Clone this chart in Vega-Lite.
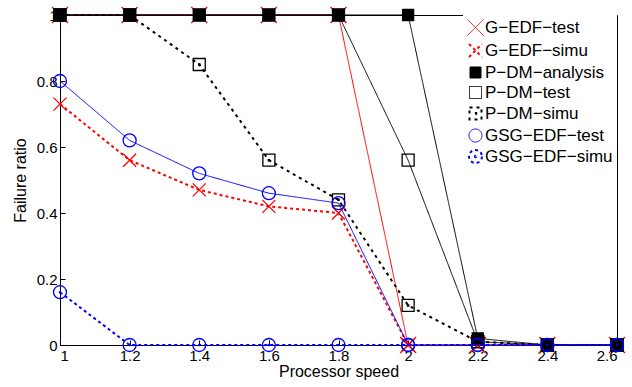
{
  "$schema": "https://vega.github.io/schema/vega-lite/v6.json",
  "width": 557,
  "height": 330,
  "autosize": "none",
  "padding": {"left": 60, "top": 15, "right": 15, "bottom": 42},
  "background": "white",
  "config": {
    "font": "Liberation Sans",
    "view": {"stroke": "black", "strokeWidth": 1},
    "axis": {
      "grid": false, "domainColor": "black", "tickColor": "black", "tickSize": -5,
      "labelColor": "black", "labelFontSize": 15, "labelFont": "Liberation Sans",
      "titleColor": "black", "titleFontSize": 16, "titleFontWeight": "normal", "titleFont": "Liberation Sans"
    },
    "legend": {
      "orient": "top-right", "offset": 0, "fillColor": "white",
      "padding": 4, "labelFontSize": 17, "labelFont": "Liberation Sans", "labelColor": "black",
      "rowPadding": 2, "symbolStrokeWidth": 1.2, "labelOffset": 1
    }
  },
  "data": {"values": [
    {"speed": 1.0, "ratio": 1, "series": "G-EDF-test"},
    {"speed": 1.2, "ratio": 1, "series": "G-EDF-test"},
    {"speed": 1.4, "ratio": 1, "series": "G-EDF-test"},
    {"speed": 1.6, "ratio": 1, "series": "G-EDF-test"},
    {"speed": 1.8, "ratio": 1, "series": "G-EDF-test"},
    {"speed": 2.0, "ratio": 0, "series": "G-EDF-test"},
    {"speed": 2.2, "ratio": 0, "series": "G-EDF-test"},
    {"speed": 2.4, "ratio": 0, "series": "G-EDF-test"},
    {"speed": 2.6, "ratio": 0, "series": "G-EDF-test"},
    {"speed": 1.0, "ratio": 0.73, "series": "G-EDF-simu"},
    {"speed": 1.2, "ratio": 0.56, "series": "G-EDF-simu"},
    {"speed": 1.4, "ratio": 0.47, "series": "G-EDF-simu"},
    {"speed": 1.6, "ratio": 0.42, "series": "G-EDF-simu"},
    {"speed": 1.8, "ratio": 0.40, "series": "G-EDF-simu"},
    {"speed": 2.0, "ratio": 0, "series": "G-EDF-simu"},
    {"speed": 2.2, "ratio": 0, "series": "G-EDF-simu"},
    {"speed": 2.4, "ratio": 0, "series": "G-EDF-simu"},
    {"speed": 2.6, "ratio": 0, "series": "G-EDF-simu"},
    {"speed": 1.0, "ratio": 1, "series": "P-DM-analysis"},
    {"speed": 1.2, "ratio": 1, "series": "P-DM-analysis"},
    {"speed": 1.4, "ratio": 1, "series": "P-DM-analysis"},
    {"speed": 1.6, "ratio": 1, "series": "P-DM-analysis"},
    {"speed": 1.8, "ratio": 1, "series": "P-DM-analysis"},
    {"speed": 2.0, "ratio": 1, "series": "P-DM-analysis"},
    {"speed": 2.2, "ratio": 0.02, "series": "P-DM-analysis"},
    {"speed": 2.4, "ratio": 0, "series": "P-DM-analysis"},
    {"speed": 2.6, "ratio": 0, "series": "P-DM-analysis"},
    {"speed": 1.0, "ratio": 1, "series": "P-DM-test"},
    {"speed": 1.2, "ratio": 1, "series": "P-DM-test"},
    {"speed": 1.4, "ratio": 1, "series": "P-DM-test"},
    {"speed": 1.6, "ratio": 1, "series": "P-DM-test"},
    {"speed": 1.8, "ratio": 1, "series": "P-DM-test"},
    {"speed": 2.0, "ratio": 0.56, "series": "P-DM-test"},
    {"speed": 2.2, "ratio": 0.01, "series": "P-DM-test"},
    {"speed": 2.4, "ratio": 0, "series": "P-DM-test"},
    {"speed": 2.6, "ratio": 0, "series": "P-DM-test"},
    {"speed": 1.0, "ratio": 1, "series": "P-DM-simu"},
    {"speed": 1.2, "ratio": 1, "series": "P-DM-simu"},
    {"speed": 1.4, "ratio": 0.85, "series": "P-DM-simu"},
    {"speed": 1.6, "ratio": 0.56, "series": "P-DM-simu"},
    {"speed": 1.8, "ratio": 0.44, "series": "P-DM-simu"},
    {"speed": 2.0, "ratio": 0.12, "series": "P-DM-simu"},
    {"speed": 2.2, "ratio": 0.01, "series": "P-DM-simu"},
    {"speed": 2.4, "ratio": 0, "series": "P-DM-simu"},
    {"speed": 2.6, "ratio": 0, "series": "P-DM-simu"},
    {"speed": 1.0, "ratio": 0.80, "series": "GSG-EDF-test"},
    {"speed": 1.2, "ratio": 0.62, "series": "GSG-EDF-test"},
    {"speed": 1.4, "ratio": 0.52, "series": "GSG-EDF-test"},
    {"speed": 1.6, "ratio": 0.46, "series": "GSG-EDF-test"},
    {"speed": 1.8, "ratio": 0.43, "series": "GSG-EDF-test"},
    {"speed": 2.0, "ratio": 0, "series": "GSG-EDF-test"},
    {"speed": 2.2, "ratio": 0, "series": "GSG-EDF-test"},
    {"speed": 2.4, "ratio": 0, "series": "GSG-EDF-test"},
    {"speed": 2.6, "ratio": 0, "series": "GSG-EDF-test"},
    {"speed": 1.0, "ratio": 0.16, "series": "GSG-EDF-simu"},
    {"speed": 1.2, "ratio": 0, "series": "GSG-EDF-simu"},
    {"speed": 1.4, "ratio": 0, "series": "GSG-EDF-simu"},
    {"speed": 1.6, "ratio": 0, "series": "GSG-EDF-simu"},
    {"speed": 1.8, "ratio": 0, "series": "GSG-EDF-simu"},
    {"speed": 2.0, "ratio": 0, "series": "GSG-EDF-simu"},
    {"speed": 2.2, "ratio": 0, "series": "GSG-EDF-simu"},
    {"speed": 2.4, "ratio": 0, "series": "GSG-EDF-simu"},
    {"speed": 2.6, "ratio": 0, "series": "GSG-EDF-simu"}
  ]},
  "transform": [{"calculate": "datum.series", "as": "lineSeries"}],
  "encoding": {
    "x": {"field": "speed", "type": "quantitative", "scale": {"domain": [1, 2.6], "nice": false, "zero": false},
          "axis": {"title": "Processor speed", "values": [1, 1.2, 1.4, 1.6, 1.8, 2, 2.2, 2.4, 2.6], "format": ".1~f", "labelPadding": 8, "titlePadding": 0}},
    "y": {"field": "ratio", "type": "quantitative", "scale": {"domain": [0, 1], "nice": false},
          "axis": {"title": "Failure ratio", "values": [0, 0.2, 0.4, 0.6, 0.8, 1], "format": ".1~f", "labelPadding": 8, "titlePadding": 8}}
  },
  "layer": [
    {
      "mark": {"type": "line", "clip": false},
      "encoding": {
        "detail": {"field": "lineSeries", "type": "nominal"},
        "color": {"field": "series", "type": "nominal",
          "legend": {"title": null, "labelExpr": "replace(datum.label, regexp('-', 'g'), '−')"},
          "scale": {"domain": ["G-EDF-test","G-EDF-simu","P-DM-analysis","P-DM-test","P-DM-simu","GSG-EDF-test","GSG-EDF-simu"],
                    "range": ["#ff0000","#ff0000","#000000","#000000","#000000","#0000ff","#0000ff"]}},
        "strokeDash": {"field": "lineSeries", "type": "nominal", "legend": null,
          "scale": {"type": "ordinal", "domain": ["G-EDF-test","G-EDF-simu","P-DM-analysis","P-DM-test","P-DM-simu","GSG-EDF-test","GSG-EDF-simu"],
                    "range": [[1,0],[3,3],[1,0],[1,0],[3,4],[1,0],[3,3]]}},
        "strokeWidth": {"field": "lineSeries", "type": "nominal", "legend": null,
          "scale": {"type": "ordinal", "domain": ["G-EDF-test","G-EDF-simu","P-DM-analysis","P-DM-test","P-DM-simu","GSG-EDF-test","GSG-EDF-simu"],
                    "range": [1, 2, 1, 1, 2, 1, 2]}}
      }
    },
    {
      "mark": {"type": "point", "filled": false, "clip": false, "opacity": 1, "strokeWidth": 1.3},
      "encoding": {
        "color": {"field": "series", "type": "nominal",
          "legend": {"title": null, "labelExpr": "replace(datum.label, regexp('-', 'g'), '−')"},
          "scale": {"domain": ["G-EDF-test","G-EDF-simu","P-DM-analysis","P-DM-test","P-DM-simu","GSG-EDF-test","GSG-EDF-simu"],
                    "range": ["#ff0000","#ff0000","#000000","#000000","#000000","#0000ff","#0000ff"]}},
        "fill": {"field": "series", "type": "nominal",
          "legend": {"title": null, "labelExpr": "replace(datum.label, regexp('-', 'g'), '−')"},
          "scale": {"domain": ["G-EDF-test","G-EDF-simu","P-DM-analysis","P-DM-test","P-DM-simu","GSG-EDF-test","GSG-EDF-simu"],
                    "range": ["transparent","transparent","#000000","transparent","transparent","transparent","transparent"]}},
        "shape": {"field": "series", "type": "nominal",
          "legend": {"title": null, "labelExpr": "replace(datum.label, regexp('-', 'g'), '−')"},
          "scale": {"domain": ["G-EDF-test","G-EDF-simu","P-DM-analysis","P-DM-test","P-DM-simu","GSG-EDF-test","GSG-EDF-simu"],
                    "range": ["M-1,-1L1,1M-1,1L1,-1","M-1,-1L1,1M-1,1L1,-1","square","square","M-1,-1H1V1H-1Z M-0.1,-0.1H0.1V0.1H-0.1Z","circle","M1,0A1,1 0 1,1 -1,0A1,1 0 1,1 1,0Z M0.1,0A0.1,0.1 0 1,1 -0.1,0A0.1,0.1 0 1,1 0.1,0Z"]}},
        "size": {"field": "series", "type": "nominal",
          "legend": {"title": null, "labelExpr": "replace(datum.label, regexp('-', 'g'), '−')"},
          "scale": {"type": "ordinal", "domain": ["G-EDF-test","G-EDF-simu","P-DM-analysis","P-DM-test","P-DM-simu","GSG-EDF-test","GSG-EDF-simu"],
                    "range": [256, 169, 121, 144, 144, 169, 169]}}
      }
    }
  ]
}
